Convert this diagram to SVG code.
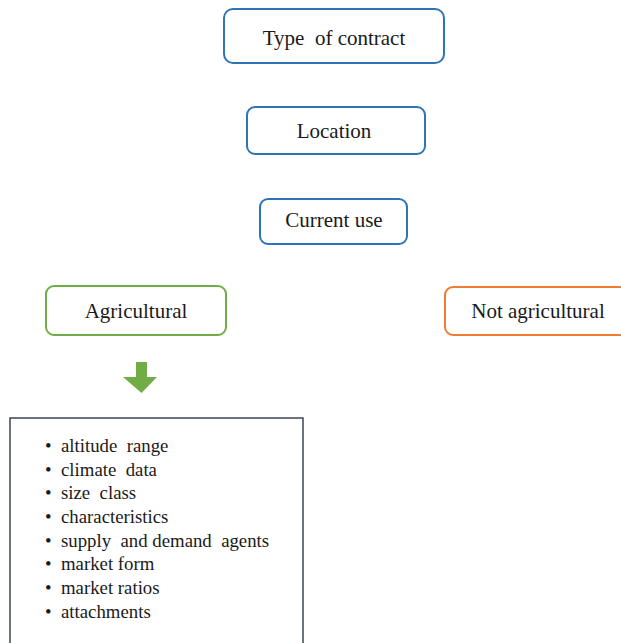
<svg xmlns="http://www.w3.org/2000/svg" width="621" height="643" viewBox="0 0 621 643">
<style>
text{font-family:"Liberation Serif","Times New Roman",serif;font-size:21px;fill:#1a1a1a;white-space:pre}
.c{text-anchor:middle}
.l{font-size:18.8px}
.b{fill:#fff;stroke:#2e75b6;stroke-width:2}
.g{fill:#fff;stroke:#70ad47;stroke-width:2}
.o{fill:#fff;stroke:#ed7d31;stroke-width:2}
</style>
<rect width="621" height="643" fill="#fff"/>
<g id="type"><rect class="b" x="224" y="9" width="220" height="54" rx="9"/><text class="c" x="334" y="45">Type  of contract</text></g>
<g id="location"><rect class="b" x="247" y="107" width="178" height="47" rx="8"/><text class="c" x="334" y="138">Location</text></g>
<g id="current"><rect class="b" x="260" y="199" width="147" height="45" rx="8"/><text class="c" x="334" y="227">Current use</text></g>
<g id="agri"><rect class="g" x="46" y="286" width="180" height="49" rx="8"/><text class="c" x="136" y="318">Agricultural</text></g>
<g id="notagri"><rect class="o" x="445" y="287" width="186" height="48" rx="8"/><text class="c" x="538" y="318">Not agricultural</text></g>
<g id="connectors"><polygon fill="#70ad47" points="136,362 147,362 147,377 157,377 141.5,393 123,377 136,377"/></g>
<g id="list"><rect x="10" y="418" width="293" height="240" fill="#fff" stroke="#3a4654" stroke-width="1.5"/>
<g class="l">
<text class="l" x="45" y="452">•</text><text class="l" x="61" y="452">altitude  range</text>
<text class="l" x="45" y="476">•</text><text class="l" x="61" y="476">climate  data</text>
<text class="l" x="45" y="499">•</text><text class="l" x="61" y="499">size  class</text>
<text class="l" x="45" y="523">•</text><text class="l" x="61" y="523">characteristics</text>
<text class="l" x="45" y="547">•</text><text class="l" x="61" y="547">supply  and demand  agents</text>
<text class="l" x="45" y="570">•</text><text class="l" x="61" y="570">market form</text>
<text class="l" x="45" y="594">•</text><text class="l" x="61" y="594">market ratios</text>
<text class="l" x="45" y="618">•</text><text class="l" x="61" y="618">attachments</text>
</g></g>
</svg>
